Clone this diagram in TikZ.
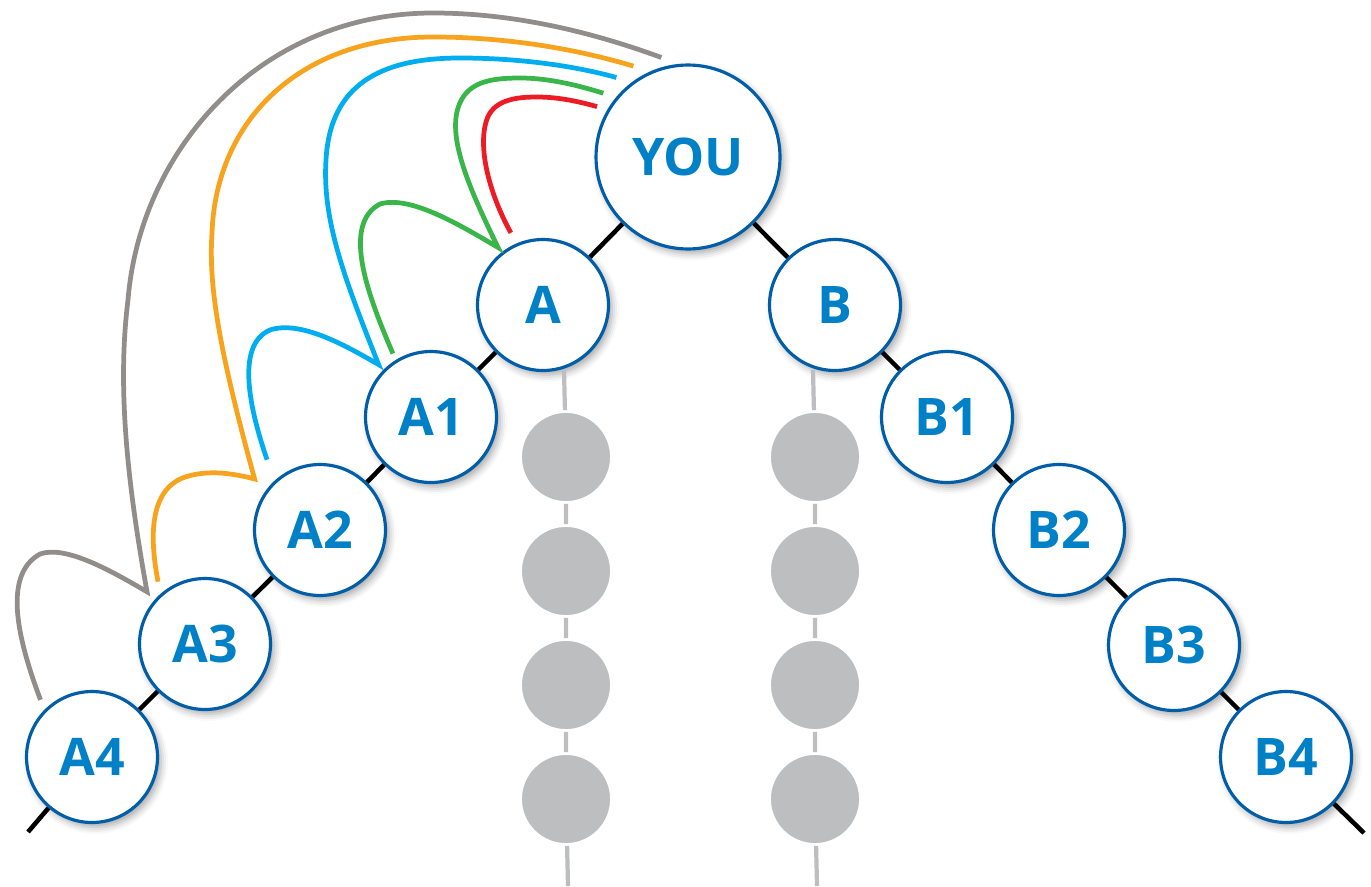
\documentclass[tikz,border=0pt]{standalone}
\usepackage{fontspec}
\setmainfont{Open Sans}
\usetikzlibrary{calc,shadows.blur}

\definecolor{ringblue}{RGB}{0,94,168}
\definecolor{nameblue}{RGB}{0,128,198}
\definecolor{dotgrey}{RGB}{188,190,192}
\definecolor{hopred}{RGB}{237,28,36}
\definecolor{hopgreen}{RGB}{57,181,74}
\definecolor{hopcyan}{RGB}{0,174,239}
\definecolor{hoporange}{RGB}{248,163,29}
\definecolor{hopgrey}{RGB}{145,141,138}

\begin{document}
\begin{tikzpicture}[x=0.02cm, y=-0.02cm,
        person/.style={circle, draw=ringblue, line width=1.8pt, fill=white,
            minimum size=2.62cm, inner sep=0pt, text=nameblue,
            font=\fontsize{29.5}{30}\selectfont\bfseries,
            blur shadow={shadow xshift=2pt, shadow yshift=-2.5pt,
                shadow blur radius=4pt, shadow opacity=35}},
        ghost/.style={circle, fill=dotgrey, draw=white, line width=1.6pt,
            minimum size=1.82cm, inner sep=0pt},
        link/.style={line width=2.6pt, black},
        trail/.style={line width=2.4pt, dotgrey},
        hop/.style={line width=2.7pt}]
    \useasboundingbox (0,0) rectangle (1371,886);

    \node[person, minimum size=3.68cm] (you) at (688,157) {YOU};
    \node[person] (a) at (543,305) {A};
    \node[person] (a1) at (431,417) {A1};
    \node[person] (a2) at (320,530) {A2};
    \node[person] (a3) at (205,644) {A3};
    \node[person] (a4) at (92,757) {A4};
    \node[person] (b) at (835,305) {B};
    \node[person] (b1) at (947,417) {B1};
    \node[person] (b2) at (1059,530) {B2};
    \node[person] (b3) at (1174,645) {B3};
    \node[person] (b4) at (1286,757) {B4};
    \coordinate (aend) at (28,832);
    \coordinate (bend) at (1364,833);

    \node[ghost] (ga1) at (566,457) {};
    \node[ghost] (ga2) at (566,571) {};
    \node[ghost] (ga3) at (566,685) {};
    \node[ghost] (ga4) at (566,799) {};
    \node[ghost] (gb1) at (815,457) {};
    \node[ghost] (gb2) at (815,571) {};
    \node[ghost] (gb3) at (815,685) {};
    \node[ghost] (gb4) at (815,799) {};
    \coordinate (gatop) at (564,370);
    \coordinate (gabot) at (568,886);
    \coordinate (gbtop) at (813,370);
    \coordinate (gbbot) at (817,886);

    \draw[link] (you) -- (a) (a) -- (a1) (a1) -- (a2) (a2) -- (a3)
        (a3) -- (a4) (a4) -- (aend);
    \draw[link] (you) -- (b) (b) -- (b1) (b1) -- (b2) (b2) -- (b3)
        (b3) -- (b4) (b4) -- (bend);
    \draw[trail] (gatop) -- (ga1) (ga1) -- (ga2) (ga2) -- (ga3)
        (ga3) -- (ga4) (ga4) -- (gabot);
    \draw[trail] (gbtop) -- (gb1) (gb1) -- (gb2) (gb2) -- (gb3)
        (gb3) -- (gb4) (gb4) -- (gbbot);

    % hops up the A branch
    \draw[hop, hopred] ($(a)+(-114:79)$)
        .. controls (490,195) and (478,150) .. (486,122)
        .. controls (492,100) and (515,97) .. (537,97)
        .. controls (560,97) and (580,102) .. ($(you)+(-151:104)$);
    \draw[hop, hopgreen] ($(a1)+(-121:74)$)
        .. controls (370,300) and (340,225) .. (380,204)
        .. controls (410,195) and (460,225) .. ($(a)+(-128:73)$)
        .. controls (470,190) and (448,140) .. (458,108)
        .. controls (466,82) and (490,78) .. (520,78)
        .. controls (550,78) and (580,86) .. ($(you)+(-143:106)$);
    \draw[hop, hopcyan] ($(a2)+(-127:88)$)
        .. controls (250,410) and (235,345) .. (270,330)
        .. controls (300,320) and (345,345) .. ($(a1)+(-135:74)$)
        .. controls (345,280) and (322,220) .. (326,160)
        .. controls (330,85) and (380,58) .. (460,58)
        .. controls (520,58) and (575,66) .. ($(you)+(-132:107)$);
    \draw[hop, hoporange] ($(a3)+(-127:78)$)
        .. controls (150,540) and (148,490) .. (185,477)
        .. controls (210,469) and (235,474) .. ($(a2)+(-142:83)$)
        .. controls (222,360) and (208,290) .. (212,233)
        .. controls (216,120) and (300,37) .. (433,37)
        .. controls (510,37) and (580,50) .. ($(you)+(-121:106)$);
    \draw[hop, hopgrey] ($(a4)+(-132:77)$)
        .. controls (18,640) and (2,575) .. (40,554)
        .. controls (65,545) and (110,570) .. ($(a3)+(-138:78)$)
        .. controls (125,470) and (118,380) .. (128,300)
        .. controls (140,150) and (260,13) .. (433,13)
        .. controls (520,13) and (600,35) .. ($(you)+(-105:103)$);
\end{tikzpicture}
\end{document}
